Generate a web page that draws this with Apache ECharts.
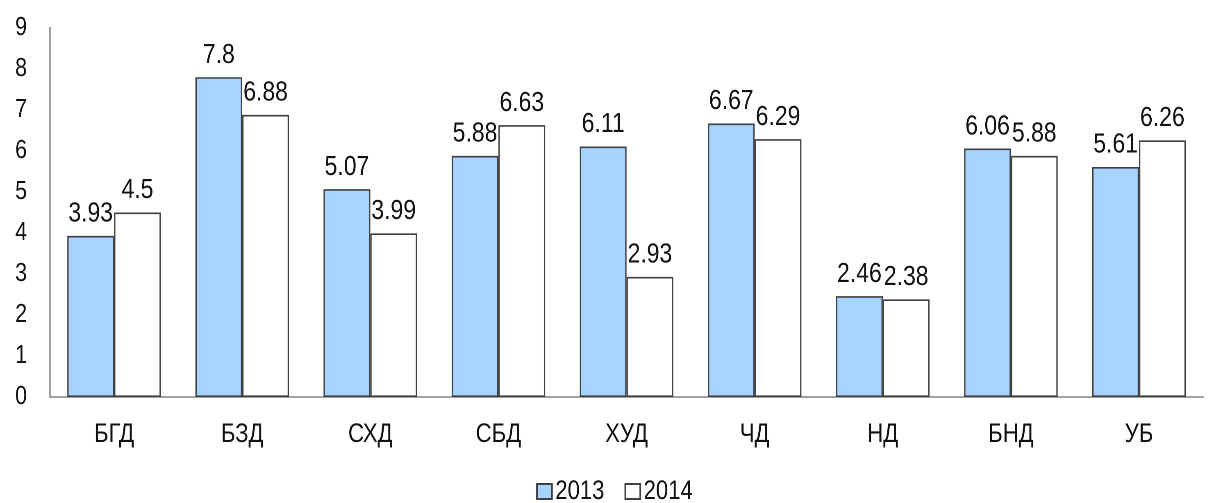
<!DOCTYPE html>
<html>
<head>
<meta charset="utf-8">
<script src="https://cdn.jsdelivr.net/npm/echarts@6/dist/echarts.min.js"></script>
<style>
  html, body { margin: 0; padding: 0; background: #fff; overflow: hidden; }
  #wrap { width: 1209px; height: 503px; overflow: hidden; }
  /* the reference text is narrow (Arial Narrow look); draw wide, then squash horizontally */
  #chart { width: 1475px; height: 503px; transform: scaleX(0.8197); transform-origin: 0 0; }
</style>
</head>
<body>
<div id="wrap"><div id="chart"></div></div>
<script>
const categories = ['БГД', 'БЗД', 'СХД', 'СБД', 'ХУД', 'ЧД', 'НД', 'БНД', 'УБ']
const values2013 = [3.93, 7.8, 5.07, 5.88, 6.11, 6.67, 2.46, 6.06, 5.61]
const values2014 = [4.5, 6.88, 3.99, 6.63, 2.93, 6.29, 2.38, 5.88, 6.26]

const font = '"Liberation Sans", Arial, sans-serif'
const k = 1475 / 1209
const chart = echarts.init(document.getElementById('chart'), null, { devicePixelRatio: 2 })

const labelStyle = {
  show: true,
  position: 'top',
  distance: 8,
  color: '#111',
  fontSize: 28,
  fontFamily: font
}

chart.setOption({
  animation: false,
  grid: { left: 50 * k, right: 6 * k, top: 28, bottom: 106 },
  legend: {
    top: 473,
    left: 532 * k,
    icon: 'rect',
    itemWidth: 15 * k,
    itemHeight: 15,
    itemGap: 20 * k,
    textStyle: { fontSize: 27, fontFamily: font, color: '#111', padding: [0, 0, 0, -1] },
    data: ['2013', '2014']
  },
  xAxis: {
    type: 'category',
    data: categories,
    axisLine: { lineStyle: { color: '#a0a0a0', width: 2 } },
    axisTick: { show: false },
    axisLabel: { fontSize: 27, fontFamily: font, color: '#111', margin: 24 }
  },
  yAxis: {
    type: 'value',
    min: 0,
    max: 9,
    interval: 1,
    axisLine: { show: true, lineStyle: { color: '#a0a0a0', width: 2 * k } },
    axisTick: { show: false },
    splitLine: { show: false },
    axisLabel: { fontSize: 26, fontFamily: font, color: '#111', margin: 23 * k }
  },
  series: [
    {
      name: '2013',
      type: 'bar',
      data: values2013,
      barGap: '0%',
      barCategoryGap: '27%',
      itemStyle: { color: '#a6d3ff', borderColor: '#404040', borderWidth: 1.6 },
      label: labelStyle
    },
    {
      name: '2014',
      type: 'bar',
      data: values2014,
      barGap: '0%',
      barCategoryGap: '27%',
      itemStyle: { color: '#ffffff', borderColor: '#404040', borderWidth: 1.6 },
      label: labelStyle
    }
  ]
})
</script>
</body>
</html>
